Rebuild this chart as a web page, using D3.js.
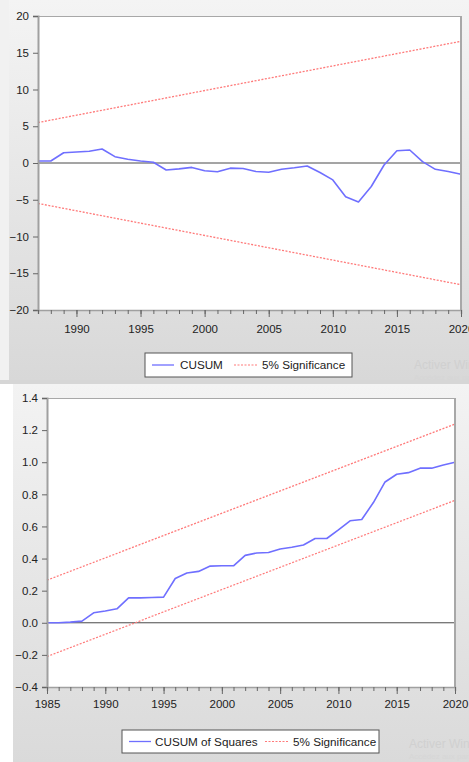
<!DOCTYPE html>
<html><head><meta charset="utf-8">
<script src="https://cdn.jsdelivr.net/npm/d3@7"></script>
<style>
body{margin:0;background:#fff}
svg{display:block}
text{font-family:"Liberation Sans",Arial,sans-serif}
</style>
</head><body><svg id="c" width="469" height="762"></svg>
<script>
// ---------- DATA ----------
const cusumYears = [1987,1988,1989,1990,1991,1992,1993,1994,1995,1996,1997,1998,1999,2000,2001,2002,2003,2004,2005,2006,2007,2008,2009,2010,2011,2012,2013,2014,2015,2016,2017,2018,2019,2020];
const cusumValues = [0.27,0.27,1.4,1.5,1.6,1.9,0.86,0.5,0.27,0.1,-0.95,-0.8,-0.6,-1.05,-1.2,-0.7,-0.75,-1.15,-1.25,-0.85,-0.65,-0.4,-1.3,-2.3,-4.6,-5.3,-3.2,-0.27,1.67,1.77,0.18,-0.86,-1.15,-1.54];
const cusumBoundYears = [1987, 2020];
const cusumUpper = [5.5, 16.56];
const cusumLower = [-5.5, -16.56];
const cusumYTicks = [20,15,10,5,0,-5,-10,-15,-20];
const cusumXTicks = [1990,1995,2000,2005,2010,2015,2020];

const sqYears = [1985,1986,1987,1988,1989,1990,1991,1992,1993,1994,1995,1996,1997,1998,1999,2000,2001,2002,2003,2004,2005,2006,2007,2008,2009,2010,2011,2012,2013,2014,2015,2016,2017,2018,2019,2020];
const sqValues = [0,0,0.004,0.01,0.062,0.073,0.087,0.155,0.155,0.157,0.16,0.276,0.31,0.32,0.353,0.355,0.355,0.42,0.435,0.438,0.46,0.47,0.484,0.525,0.525,0.578,0.635,0.643,0.749,0.877,0.925,0.935,0.963,0.963,0.983,1.0];
const sqBoundYears = [1985, 2020];
const sqUpper = [0.265, 1.238];
const sqLower = [-0.21, 0.762];
const sqYTicks = [1.4,1.2,1.0,0.8,0.6,0.4,0.2,0.0,-0.2,-0.4];
const sqXTicks = [1985,1990,1995,2000,2005,2010,2015,2020];

const legendTop = ["CUSUM", "5% Significance"];
const legendBottom = ["CUSUM of Squares", "5% Significance"];

// ---------- DRAW ----------
const svg = d3.select("#c");
const defs = svg.append("defs");
function grad(id, c0, c1){
  const g = defs.append("linearGradient").attr("id", id).attr("x1",0).attr("y1",0).attr("x2",0).attr("y2",1);
  g.append("stop").attr("offset","0%").attr("stop-color",c0);
  g.append("stop").attr("offset","100%").attr("stop-color",c1);
}
grad("g1","#f4f4f4","#d8d8d8");
grad("g2","#f3f3f3","#dadada");

// panels
svg.append("rect").attr("x",0).attr("y",0).attr("width",469).attr("height",381).attr("fill","#f1f1f1");
svg.append("rect").attr("x",9).attr("y",0).attr("width",460).attr("height",381).attr("fill","url(#g1)");
svg.append("rect").attr("x",0).attr("y",380).attr("width",469).attr("height",4).attr("fill","#d6d6d6");
svg.append("rect").attr("x",13).attr("y",384).attr("width",456).attr("height",378).attr("fill","url(#g2)");

const blue = "#6f6fff", red = "#ff7a7a";
const fmtSq = d3.format(".1f");

function chart(o){
  const g = svg.append("g");
  const x = d3.scaleLinear().domain(o.xDomain).range([o.left, o.right]);
  const y = d3.scaleLinear().domain(o.yDomain).range([o.bottom, o.top]);
  g.append("rect").attr("x",o.left).attr("y",o.top).attr("width",o.right-o.left).attr("height",o.bottom-o.top).attr("fill","#fff");

  // zero line
  g.append("line").attr("x1",o.left).attr("x2",o.right).attr("y1",y(0)).attr("y2",y(0))
    .attr("stroke","#4a4a4a").attr("stroke-width",1);

  // bounds
  const line = d3.line().x(d=>x(d[0])).y(d=>y(d[1]));
  [o.upper,o.lower].forEach(b=>{
    g.append("path").attr("d", line(o.bYears.map((yr,i)=>[yr,b[i]])))
      .attr("fill","none").attr("stroke",red).attr("stroke-width",1.3).attr("stroke-dasharray","2,1.5");
  });
  // main series
  g.append("path").attr("d", line(o.years.map((yr,i)=>[yr,o.values[i]])))
    .attr("fill","none").attr("stroke",blue).attr("stroke-width",1.6).attr("stroke-linejoin","round");

  // frame
  g.append("line").attr("x1",o.left).attr("x2",o.right).attr("y1",o.top+0.5).attr("y2",o.top+0.5).attr("stroke","#a8a8a8");
  g.append("line").attr("x1",o.right).attr("x2",o.right).attr("y1",o.top).attr("y2",o.bottom).attr("stroke","#a8a8a8").attr("stroke-width",2);

  // y axis
  const ya = g.append("g").attr("transform",`translate(${o.left},0)`)
    .call(d3.axisLeft(y).tickValues(o.yTicks).tickSize(5).tickPadding(4).tickFormat(o.yFmt));
  ya.select(".domain").attr("stroke","#a0a0a0").attr("stroke-width",2);
  ya.selectAll(".tick line").attr("stroke","#666");
  ya.selectAll(".tick text").attr("fill","#222").style("font-size","11.5px");

  // x axis minor
  const minor = d3.range(o.xDomain[0], o.xDomain[1]+1);
  const xm = g.append("g").attr("transform",`translate(0,${o.bottom})`)
    .call(d3.axisBottom(x).tickValues(minor).tickSize(4).tickFormat(""));
  xm.select(".domain").attr("stroke","#a0a0a0").attr("stroke-width",1.5);
  xm.selectAll(".tick line").attr("stroke","#666");
  const xa = g.append("g").attr("transform",`translate(0,${o.bottom})`)
    .call(d3.axisBottom(x).tickValues(o.xTicks).tickSize(7).tickPadding(o.xPad).tickFormat(d3.format("d")));
  xa.select(".domain").remove();
  xa.selectAll(".tick line").attr("stroke","#666");
  xa.selectAll(".tick text").attr("fill","#222").style("font-size","11.5px");

  // legend
  const L = o.legend;
  g.append("rect").attr("x",L.x).attr("y",L.y).attr("width",L.w).attr("height",L.h)
    .attr("fill","#fff").attr("stroke","#555").attr("stroke-width",1);
  const cy = L.y + L.h/2;
  g.append("line").attr("x1",L.x+7).attr("x2",L.x+29).attr("y1",cy).attr("y2",cy).attr("stroke",blue).attr("stroke-width",1.3);
  g.append("text").attr("x",L.x+L.t).attr("y",cy+4.3).text(o.legendText[0]).attr("fill","#222").style("font-size","11.7px");
  g.append("line").attr("x1",L.x+L.s).attr("x2",L.x+L.s+23).attr("y1",cy).attr("y2",cy).attr("stroke",red).attr("stroke-width",1.2).attr("stroke-dasharray","2,1.5");
  g.append("text").attr("x",L.x+L.s+28).attr("y",cy+4.3).text(o.legendText[1]).attr("fill","#222").style("font-size","11.7px");
}

chart({xDomain:[1987,2020], yDomain:[-20,20], left:38, right:461, top:16, bottom:310,
  years:cusumYears, values:cusumValues, bYears:cusumBoundYears, upper:cusumUpper, lower:cusumLower,
  yTicks:cusumYTicks, xTicks:cusumXTicks, yFmt:d3.format("d"), xPad:8,
  legend:{x:145,y:353,w:207,h:24,s:89,t:35}, legendText:legendTop});

chart({xDomain:[1985,2020], yDomain:[-0.4,1.4], left:47, right:455, top:398, bottom:687,
  years:sqYears, values:sqValues, bYears:sqBoundYears, upper:sqUpper, lower:sqLower,
  yTicks:sqYTicks, xTicks:sqXTicks, yFmt:fmtSq, xPad:6,
  legend:{x:122,y:730,w:257,h:23,s:143,t:33}, legendText:legendBottom});

// watermark
svg.append("text").attr("x",414).attr("y",369).text("Activer Windows").attr("fill","#d0d0d0").style("font-size","12px");
svg.append("text").attr("x",414).attr("y",380).text("Accédez aux paramètres").attr("fill","#d6d6d6").style("font-size","8px");
svg.append("text").attr("x",409).attr("y",748).text("Activer Windows").attr("fill","#d0d0d0").style("font-size","12px");
svg.append("text").attr("x",409).attr("y",759).text("Accédez aux paramètres").attr("fill","#d6d6d6").style("font-size","8px");
</script>
</body></html>
